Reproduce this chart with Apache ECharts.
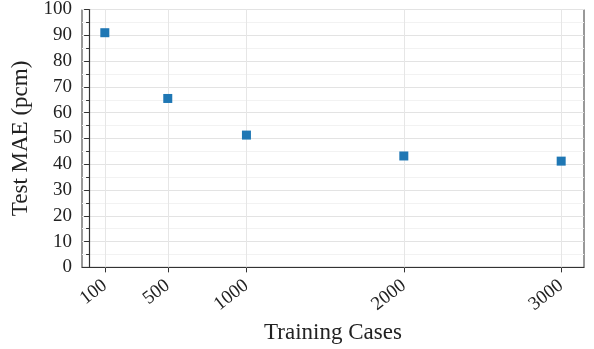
<!DOCTYPE html>
<html><head><meta charset="utf-8">
<script src="https://cdn.jsdelivr.net/npm/echarts@6/dist/echarts.min.js"></script>
<style>html,body{margin:0;padding:0;background:#fff}#c{width:594px;height:349px}</style>
</head><body><div id="c"></div>
<script>
const trainingCases = [100, 500, 1000, 2000, 3000];
const testMAE = [91.0, 65.5, 51.3, 43.2, 41.2];
const xTicks = [100, 500, 1000, 2000, 3000];
const yTicks = [0, 10, 20, 30, 40, 50, 60, 70, 80, 90, 100];

const font = 'Liberation Serif';
const chart = echarts.init(document.getElementById('c'), null, {renderer: 'canvas'});
chart.setOption({
  animation: false,
  grid: {left: 82, right: 10, top: 9, bottom: 79, show: true, borderColor: '#333', borderWidth: 1, backgroundColor: 'transparent'},
  xAxis: {
    type: 'value', min: -45, max: 3145,
    name: 'Training Cases', nameLocation: 'middle', nameGap: 52,
    nameTextStyle: {fontFamily: font, fontSize: 23, color: '#222'},
    axisLine: {show: true, onZero: false, lineStyle: {color: '#333', width: 1.2}},
    axisTick: {show: true, length: 5, customValues: xTicks, lineStyle: {color: '#333'}},
    axisLabel: {customValues: xTicks, rotate: 38, fontFamily: font, fontSize: 19, color: '#222', margin: 16,
      formatter: v => String(v)},
    splitLine: {show: false}
  },
  yAxis: {
    type: 'value', min: 0, max: 100, interval: 10,
    name: 'Test MAE (pcm)', nameLocation: 'middle', nameGap: 50, nameMoveOverlap: false,
    nameTextStyle: {fontFamily: font, fontSize: 23, color: '#222'},
    axisLine: {show: true, lineStyle: {color: '#333', width: 1.2}},
    axisTick: {show: true, length: 5, lineStyle: {color: '#333'}},
    minorTick: {show: true, splitNumber: 2, length: 3, lineStyle: {color: '#333'}},
    axisLabel: {fontFamily: font, fontSize: 19, color: '#222', margin: 10,
      formatter: v => String(v)},
    splitLine: {show: true, lineStyle: {color: '#e3e3e3', width: 1}},
    minorSplitLine: {show: true, lineStyle: {color: '#f2f2f2', width: 1}}
  },
  series: [{
    type: 'scatter',
    symbol: 'rect', symbolSize: 9,
    itemStyle: {color: '#1f77b4', opacity: 1},
    data: trainingCases.map((x, i) => [x, testMAE[i]]),
    z: 5,
    markLine: {
      silent: true, symbol: 'none', label: {show: false}, animation: false,
      lineStyle: {color: '#e6e6e6', width: 1, type: 'solid'},
      data: xTicks.map(v => ({xAxis: v}))
    }
  }]
});
</script></body></html>
